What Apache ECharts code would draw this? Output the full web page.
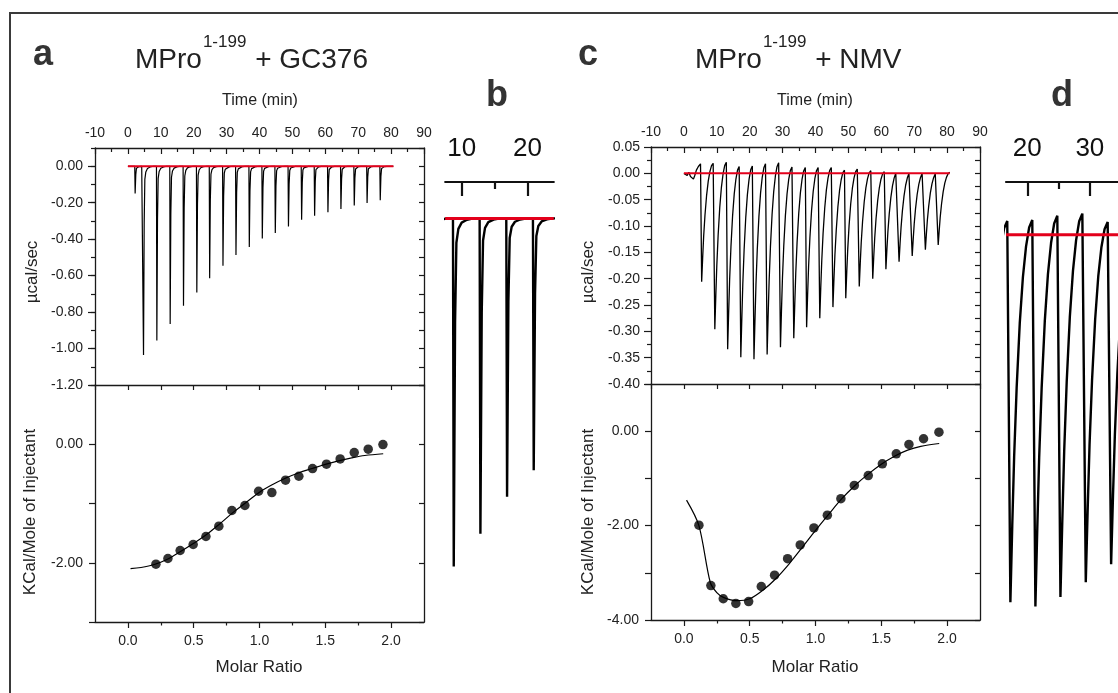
<!DOCTYPE html>
<html><head><meta charset="utf-8">
<script src="https://cdn.jsdelivr.net/npm/echarts@6/dist/echarts.min.js"></script>
<style>html,body{margin:0;padding:0;background:#fff}#c{width:1118px;height:693px}</style>
</head><body><div id="c"></div>
<script>
// ---------- DATA ----------
// Panel a: raw thermogram of MPro1-199 + GC376 (injection time, min; peak minimum, µcal/s)
const aTimes = [2.2, 4.75, 8.8, 12.85, 16.9, 20.95, 24.85, 28.9, 32.85, 36.9, 40.85, 44.8, 48.8, 52.8, 56.75, 60.8, 64.75, 68.8, 72.7, 76.7];
const aPeaks = [-0.15, -1.035, -0.956, -0.866, -0.765, -0.692, -0.615, -0.546, -0.487, -0.443, -0.397, -0.366, -0.330, -0.293, -0.271, -0.253, -0.234, -0.216, -0.201, -0.187];
const aStart = [[0, 0]];
const aEnd = [80.7, 0];
// recovery after each peak: [minutes after minimum, fraction of peak depth left]
const aRecovery = [[0.2, 0.3], [0.4, 0.07], [0.7, 0.03], [1.2, 0.012], [2.0, 0.004], [3.0, 0]];
const aBaseline = [0, 80.7];
// Panel a: integrated heats
const aRatio = [0.213, 0.304, 0.397, 0.496, 0.593, 0.691, 0.790, 0.889, 0.993, 1.094, 1.198, 1.299, 1.403, 1.509, 1.613, 1.720, 1.826, 1.938];
const aHeat = [-2.024, -1.928, -1.793, -1.692, -1.557, -1.383, -1.118, -1.034, -0.793, -0.815, -0.607, -0.540, -0.410, -0.337, -0.247, -0.140, -0.084, -0.006];
const aFitX = [0.02, 0.1, 0.2, 0.3, 0.4, 0.5, 0.6, 0.7, 0.8, 0.9, 1.0, 1.1, 1.2, 1.3, 1.4, 1.5, 1.6, 1.7, 1.8, 1.94];
const aFitY = [-2.10, -2.08, -2.03, -1.94, -1.81, -1.67, -1.52, -1.34, -1.15, -0.98, -0.81, -0.68, -0.57, -0.48, -0.41, -0.34, -0.28, -0.23, -0.19, -0.16];

// Panel c: raw thermogram of MPro1-199 + NMV
const cStart = [[0, 0], [0.6, 0.002], [1.0, -0.004], [1.5, 0.002], [2.0, -0.006], [2.5, -0.003], [2.9, -0.011], [3.3, -0.004], [3.8, 0.006], [4.4, 0.013], [5.05, 0.018]];
const cTimes = [5.4, 9.4, 13.3, 17.3, 21.3, 25.3, 29.35, 33.4, 37.3, 41.3, 45.3, 49.2, 53.3, 57.4, 61.4, 65.4, 69.4, 73.4, 77.3];
const cPeaks = [-0.206, -0.296, -0.334, -0.349, -0.353, -0.344, -0.330, -0.313, -0.292, -0.275, -0.254, -0.237, -0.215, -0.200, -0.182, -0.168, -0.157, -0.145, -0.136];
const cTops = [0.019, 0.021, 0.013, 0.014, 0.018, 0.020, 0.012, 0.011, 0.011, 0.011, 0.006, 0.008, 0.005, 0.003, 0.004, 0.003, 0.003, 0.002, 0.002];
const cEnd = [80.8, 0.002];
const cRecovery = [[0.3, 0.8], [0.6, 0.62], [1.0, 0.44], [1.5, 0.27], [2.0, 0.15], [2.5, 0.07], [3.0, 0.02], [3.5, 0]];
const cBaseline = [0, 80.8];
// Panel c: integrated heats
const cRatio = [0.114, 0.205, 0.299, 0.395, 0.492, 0.588, 0.689, 0.788, 0.884, 0.988, 1.090, 1.193, 1.295, 1.401, 1.508, 1.614, 1.710, 1.821, 1.938];
const cHeat = [-1.99, -3.27, -3.55, -3.65, -3.61, -3.29, -3.05, -2.70, -2.41, -2.05, -1.78, -1.43, -1.15, -0.94, -0.69, -0.48, -0.28, -0.16, -0.02];
const cFitX = [0.02, 0.114, 0.2, 0.25, 0.3, 0.4, 0.5, 0.6, 0.7, 0.8, 0.9, 1.0, 1.1, 1.2, 1.3, 1.4, 1.5, 1.6, 1.7, 1.8, 1.94];
const cFitY = [-1.46, -2.0, -3.2, -3.42, -3.52, -3.59, -3.55, -3.37, -3.12, -2.81, -2.46, -2.10, -1.76, -1.43, -1.15, -0.91, -0.70, -0.53, -0.40, -0.32, -0.26];

// Zoomed windows (b, d) and tick labels
const bWindow = [7.5, 24];
const dWindow = [16.6, 34.5];
const bTickLabels = [10, 20];
const bMinorTicks = [15];
const dTickLabels = [20, 30];
const dMinorTicks = [25];
const molarLabels = [0, 0.5, 1.0, 1.5, 2.0];
const molarMinor = [0.25, 0.75, 1.25, 1.75];
const aRateLabels = [-1.2, -1.0, -0.8, -0.6, -0.4, -0.2, 0];
const aHeatLabels = [-2, 0];
const cHeatLabels = [-4, -2, 0];

// ---------- build ----------
function thermo(start, times, peaks, tops, recovery, drop, end) {
  const pts = start.map(p => p.slice());
  for (let i = 0; i < times.length; i++) {
    const t = times[i], m = peaks[i];
    const prevTop = i === 0 ? start[start.length - 1][1] : (Array.isArray(tops) ? tops[i - 1] : tops);
    const top = Array.isArray(tops) ? tops[i] : tops;
    pts.push([t - drop, prevTop]);
    pts.push([t, m]);
    const limit = i + 1 < times.length ? times[i + 1] - drop : end[0];
    for (const [dt, f] of recovery) if (t + dt < limit) pts.push([t + dt, top + f * (m - top)]);
  }
  pts.push(end.slice());
  return pts;
}
const aThermo = thermo(aStart, aTimes, aPeaks, 0, aRecovery, 0.12, aEnd);
const cThermo = thermo(cStart, cTimes, cPeaks, cTops, cRecovery, 0.3, cEnd);
const zip = (x, y) => x.map((v, i) => [v, y[i]]);

const FONT = '"Liberation Sans", Arial, Helvetica, sans-serif';
const INK = '#1a1a1a';
function merge(a, b) { for (const k in b) { const v = b[k]; if (v && typeof v === 'object' && !Array.isArray(v) && typeof v !== 'function') a[k] = merge(a[k] && typeof a[k] === 'object' ? a[k] : {}, v); else a[k] = v; } return a; }
function axis(extra) {
  return merge({
    type: 'value', splitLine: { show: false },
    axisLine: { show: true, onZero: false, lineStyle: { color: INK, width: 1.3 } },
    axisTick: { show: false, lineStyle: { color: INK, width: 1.2 } },
    minorTick: { show: false, lineStyle: { color: INK, width: 1.2 } },
    axisLabel: { show: false, color: '#222', fontSize: 14, fontFamily: FONT }
  }, extra);
}
const f2 = v => (Math.abs(v) < 1e-9 ? 0 : v).toFixed(2);
const f1 = v => (Math.abs(v) < 1e-9 ? 0 : v).toFixed(1);

const grids = [
  { left: 95, top: 148, width: 329, height: 237 },   // 0 a top
  { left: 95, top: 385, width: 329, height: 237 },   // 1 a bottom
  { left: 445.2, top: 182, width: 108.6, height: 400.4 }, // 2 b
  { left: 651, top: 147, width: 329, height: 237 },  // 3 c top
  { left: 651, top: 384, width: 329, height: 236 },  // 4 c bottom
  { left: 1006, top: 182, width: 117.8, height: 442.3 } // 5 d
];

function timeTop(g) {
  return axis({ gridIndex: g, position: 'top', min: -10, max: 90, interval: 10,
    axisLabel: { show: true, margin: 8 }, axisTick: { show: true, inside: true, length: 6 },
    minorTick: { show: true, splitNumber: 2, length: 4 } });
}
function molarSet(g) {
  return [
    axis({ gridIndex: g, position: 'bottom', min: -0.25, max: 2.25,
      axisLabel: { show: true, margin: 12, customValues: molarLabels, formatter: f1 },
      axisTick: { show: true, length: 6, customValues: molarLabels } }),
    axis({ gridIndex: g, position: 'bottom', offset: 0, min: -0.25, max: 2.25, axisLine: { show: false },
      axisTick: { show: true, length: 3.5, customValues: molarMinor } }),
    axis({ gridIndex: g, position: 'top', min: -0.25, max: 2.25, interval: 0.25,
      axisTick: { show: true, inside: true, length: 5 } })
  ];
}
function zoomAxis(g, win, labels, minor) {
  return [
    axis({ gridIndex: g, position: 'top', min: win[0], max: win[1],
      axisLine: { lineStyle: { width: 2.2, color: '#111' } },
      axisLabel: { show: true, margin: 20, fontSize: 26, color: '#111', customValues: labels },
      axisTick: { show: true, inside: true, length: 14, customValues: labels, lineStyle: { width: 2.2, color: '#111' } } }),
    axis({ gridIndex: g, position: 'top', offset: 0, min: win[0], max: win[1], axisLine: { show: false },
      axisTick: { show: true, inside: true, length: 7, customValues: minor, lineStyle: { width: 2.2, color: '#111' } } })
  ];
}

const xAxis = [
  timeTop(0),                 // 0
  ...molarSet(1),             // 1,2,3
  ...zoomAxis(2, bWindow, bTickLabels, bMinorTicks), // 4,5
  timeTop(3),                 // 6
  ...molarSet(4),             // 7,8,9
  ...zoomAxis(5, dWindow, dTickLabels, dMinorTicks)  // 10,11
];
const yAxis = [
  axis({ gridIndex: 0, position: 'left', min: -1.2, max: 0.1, interval: 0.2,
    axisLabel: { show: true, margin: 12, customValues: aRateLabels, formatter: f2 },
    axisTick: { show: true, length: 7, customValues: aRateLabels } }), // 0
  axis({ gridIndex: 0, position: 'right', min: -1.2, max: 0.1, interval: 0.1, axisTick: { show: true, inside: true, length: 5 } }), // 1
  axis({ gridIndex: 1, position: 'left', min: -3, max: 1, interval: 1, axisLabel: { show: true, margin: 12, customValues: aHeatLabels, formatter: f2 },
    axisTick: { show: true, length: 6 } }), // 2
  axis({ gridIndex: 1, position: 'right', min: -3, max: 1, interval: 1, axisTick: { show: true, inside: true, length: 5 } }), // 3
  axis({ gridIndex: 2, min: -1.0, max: 0.1, show: false }), // 4 b
  axis({ gridIndex: 3, position: 'left', min: -0.4, max: 0.05, interval: 0.05, axisLabel: { show: true, margin: 11, formatter: f2 },
    axisTick: { show: true, length: 7 }, minorTick: { show: true, splitNumber: 2, length: 4 } }), // 5
  axis({ gridIndex: 3, position: 'right', min: -0.4, max: 0.05, interval: 0.025, axisTick: { show: true, inside: true, length: 5 } }), // 6
  axis({ gridIndex: 4, position: 'left', min: -4, max: 1, interval: 1, axisLabel: { show: true, margin: 12, customValues: cHeatLabels, formatter: f2 },
    axisTick: { show: true, length: 6 } }), // 7
  axis({ gridIndex: 4, position: 'right', min: -4, max: 1, interval: 1, axisTick: { show: true, inside: true, length: 5 } }), // 8
  axis({ gridIndex: 5, min: -0.37, max: 0.05, show: false }), // 9 d
  axis({ gridIndex: 0, position: 'left', offset: 0, min: -1.2, max: 0.1, interval: 0.1, axisLine: { show: false },
    axisTick: { show: true, length: 4 } }) // 10 minor ticks a-top left
];

const RED = '#e3001b';
function lineS(x, y, data, w, color, smooth) {
  return { type: 'line', xAxisIndex: x, yAxisIndex: y, data, showSymbol: false, symbol: 'none', smooth: smooth || false,
    lineStyle: { color: color || '#000', width: w }, silent: true, animation: false, clip: true };
}
function dots(x, y, data) {
  return { type: 'scatter', xAxisIndex: x, yAxisIndex: y, data, symbol: 'circle', symbolSize: 9.5,
    itemStyle: { color: '#000' }, silent: true, animation: false };
}
const series = [
  lineS(0, 0, aThermo, 1.2),
  lineS(0, 0, aBaseline.map(t => [t, 0]), 2, RED),
  lineS(1, 2, zip(aFitX, aFitY), 1.2, '#000', 0.35),
  dots(1, 2, zip(aRatio, aHeat)),
  lineS(4, 4, aThermo, 2.4),
  lineS(4, 4, bWindow.map(t => [t, 0]), 3, RED),
  lineS(6, 5, cThermo, 1.3),
  lineS(6, 5, cBaseline.map(t => [t, 0]), 2, RED),
  lineS(7, 7, zip(cFitX, cFitY), 1.2, '#000', 0.3),
  dots(7, 7, zip(cRatio, cHeat)),
  lineS(10, 9, cThermo, 2.4),
  lineS(10, 9, dWindow.map(t => [t, 0]), 3, RED)
];

// text measuring for the superscript titles
const mctx = document.createElement('canvas').getContext('2d');
function tw(txt, size, weight) { mctx.font = (weight || 'normal') + ' ' + size + 'px ' + FONT; return mctx.measureText(txt).width; }
function title(x, base, rest) {
  const big = 28, sup = 17;
  const w1 = tw('MPro', big), w2 = tw('1-199', sup);
  const st = (t, s) => ({ text: t, fontSize: s, fontFamily: FONT, fill: '#222', textAlign: 'left', textVerticalAlign: 'bottom' });
  return [
    { type: 'text', x: x, y: base + 0.21 * big, style: st('MPro', big) },
    { type: 'text', x: x + w1 + 1, y: base - 21 + 0.21 * sup, style: st('1-199', sup) },
    { type: 'text', x: x + w1 + w2 + 2, y: base + 0.21 * big, style: st(rest, big) }
  ];
}
function txt(t, x, y, size, opts) {
  return Object.assign({ type: 'text', x, y, style: Object.assign({ text: t, fontSize: size, fontFamily: FONT, fill: '#222',
    textAlign: 'center', textVerticalAlign: 'middle' }, (opts && opts.style) || {}) }, opts && opts.rot ? { rotation: Math.PI / 2 } : {});
}
const letter = (t, x, y) => txt(t, x, y, 36, { style: { fontWeight: 'bold', fill: '#333' } });

const graphic = [
  { type: 'rect', shape: { x: 10, y: 13, width: 1130, height: 700 }, style: { fill: 'none', stroke: '#3a3a3a', lineWidth: 2 }, silent: true },
  letter('a', 43, 55), letter('c', 588, 55), letter('b', 497, 96), letter('d', 1062, 96),
  ...title(135, 68, ' + GC376'), ...title(695, 68, ' + NMV'),
  txt('Time (min)', 260, 101, 16), txt('Time (min)', 815, 101, 16),
  txt('Molar Ratio', 259, 667, 17), txt('Molar Ratio', 815, 667, 17),
  txt('µcal/sec', 32, 272, 17, { rot: true }), txt('µcal/sec', 588, 272, 17, { rot: true }),
  txt('KCal/Mole of Injectant', 30, 512, 17, { rot: true }), txt('KCal/Mole of Injectant', 588, 512, 17, { rot: true })
];

const chart = echarts.init(document.getElementById('c'), null, { renderer: 'canvas' });
chart.setOption({ backgroundColor: '#fff', animation: false, grid: grids, xAxis, yAxis, series, graphic });
</script></body></html>
